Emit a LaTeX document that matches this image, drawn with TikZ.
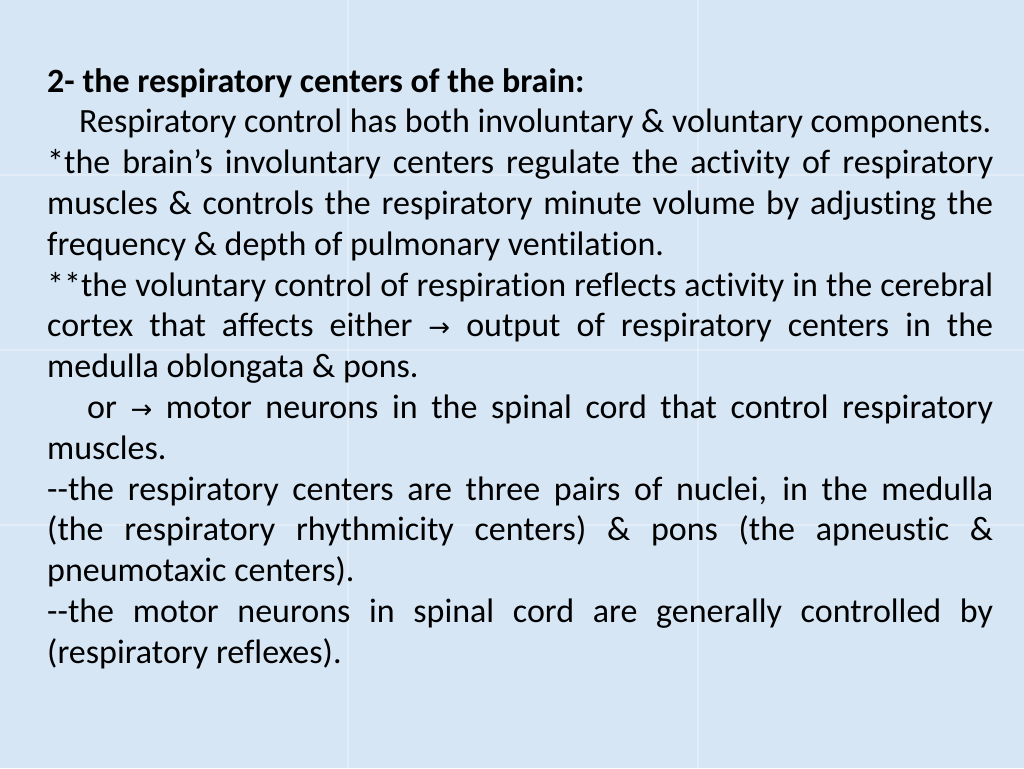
\documentclass[tikz,border=0pt]{standalone}
\usepackage{fontspec}
\setmainfont[Ligatures={NoCommon}]{Carlito}
\newfontfamily\arrowfont{DejaVu Sans}
\newcommand{\rarr}{{\arrowfont\fontsize{26pt}{26pt}\selectfont →}}
\begin{document}
\begin{tikzpicture}[x=1pt,y=1pt]
\fill[fill={rgb,255:red,214;green,230;blue,245}] (0,0) rectangle (1024,-768);
\useasboundingbox (0,0) rectangle (1024,-768);
\foreach \x in {348,698} \draw[white,opacity=0.3,line width=1.2] (\x,0) -- (\x,-768);
\foreach \y in {175,350,525} \draw[white,opacity=0.3,line width=1.2] (0,-\y) -- (1024,-\y);
\node[anchor=north west,inner sep=0,text width=946pt,align=justify,font=\fontsize{34pt}{40.8pt}\selectfont] (t) at (47,-68) {%
\textbf{2- the respiratory centers of the brain:}\par
\hspace*{32pt}Respiratory control has both involuntary \& voluntary components.\par
*the brain’s involuntary centers regulate the activity of respiratory\linebreak
muscles \& controls the respiratory minute volume by adjusting the\linebreak
frequency \& depth of pulmonary ventilation.\par
**the voluntary control of respiration reflects activity in the cerebral\linebreak
cortex that affects either \rarr{} output of respiratory centers in the\linebreak
medulla oblongata \& pons.\par
\hspace*{40pt}or \rarr{} motor neurons in the spinal cord that control respiratory\linebreak
muscles.\par
-{}-the respiratory centers are three pairs of nuclei, in the medulla\linebreak
(the respiratory rhythmicity centers) \& pons (the apneustic \&\linebreak
pneumotaxic centers).\par
-{}-the motor neurons in spinal cord are generally controlled by\linebreak
(respiratory reflexes).\par};
\end{tikzpicture}
\end{document}
